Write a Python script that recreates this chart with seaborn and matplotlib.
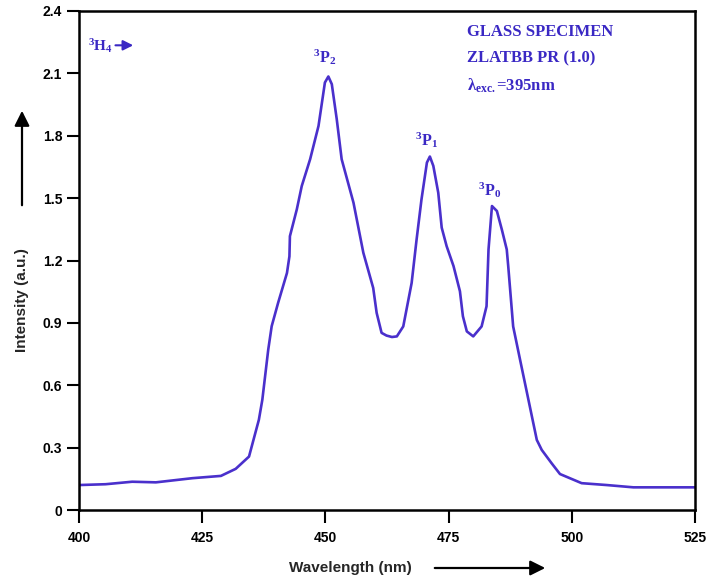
import numpy as np
import pandas as pd
import matplotlib
matplotlib.use("Agg")
import matplotlib.pyplot as plt
import seaborn as sns

# ---- data ----
wavelength = [400.0, 405.4, 410.8, 415.6, 423.0, 428.8, 431.8, 434.5, 436.5, 437.2,
              438.4, 439.1, 440.4, 442.2, 442.7, 442.8, 444.2, 445.2, 446.9, 448.6,
              449.9, 450.6, 451.3, 452.3, 453.3, 455.7, 457.7, 459.7, 460.4, 461.4,
              462.4, 463.5, 464.5, 465.8, 467.5, 468.5, 469.5, 470.6, 471.2, 471.9,
              472.9, 473.6, 474.6, 476.0, 477.3, 477.9, 478.7, 480.0, 481.7, 482.7,
              483.1, 483.8, 484.8, 485.8, 486.8, 487.1, 488.1, 489.5, 491.2, 492.9,
              493.9, 495.9, 497.6, 502.0, 507.1, 512.5, 525.0]
intensity = [0.120, 0.124, 0.136, 0.133, 0.153, 0.164, 0.198, 0.257, 0.434, 0.530,
             0.771, 0.884, 0.996, 1.140, 1.220, 1.317, 1.446, 1.558, 1.687, 1.847,
             2.056, 2.085, 2.048, 1.880, 1.687, 1.478, 1.237, 1.068, 0.948, 0.852,
             0.839, 0.832, 0.835, 0.883, 1.092, 1.300, 1.494, 1.671, 1.700, 1.655,
             1.526, 1.358, 1.269, 1.173, 1.052, 0.932, 0.859, 0.835, 0.883, 0.980,
             1.253, 1.462, 1.438, 1.349, 1.253, 1.173, 0.883, 0.723, 0.530, 0.337,
             0.289, 0.225, 0.173, 0.129, 0.120, 0.109, 0.109]
x_ticks = [400, 425, 450, 475, 500, 525]
x_tick_labels = ["400", "425", "450", "475", "500", "525"]
y_ticks = [0, 0.3, 0.6, 0.9, 1.2, 1.5, 1.8, 2.1, 2.4]
y_tick_labels = ["0", "0.3", "0.6", "0.9", "1.2", "1.5", "1.8", "2.1", "2.4"]
peak_labels = [r"$\mathbf{^{3}P_{2}}$", r"$\mathbf{^{3}P_{1}}$", r"$\mathbf{^{3}P_{0}}$"]
peak_pos = [(449.9, 2.18), (470.6, 1.78), (483.4, 1.54)]
info_lines = ["GLASS SPECIMEN", "ZLATBB PR (1.0)", r"$\mathbf{λ_{exc.}}$=395nm"]

df = pd.DataFrame({"Wavelength": wavelength, "Intensity": intensity})

sns.set_theme(style="ticks")
plt.rcParams["font.family"] = ["Liberation Sans", "DejaVu Sans"]
plt.rcParams["mathtext.fontset"] = "custom"
plt.rcParams["mathtext.rm"] = "Liberation Serif"
plt.rcParams["mathtext.bf"] = "Liberation Serif:bold"
plt.rcParams["mathtext.it"] = "Liberation Serif:italic"

line_color = "#4a30cc"
text_color = "#3a28c4"

fig = plt.figure(figsize=(7.08, 5.84), dpi=100)
ax = fig.add_axes([79/708, 1 - 510/584, (695-79)/708, (510-11)/584])

sns.lineplot(data=df, x="Wavelength", y="Intensity", sort=False, ax=ax,
             color=line_color, linewidth=1.9, estimator=None)

ax.set_xlim(400, 525)
ax.set_ylim(0, 2.4)
ax.set_xticks(x_ticks)
ax.set_xticklabels(x_tick_labels)
ax.set_yticks(y_ticks)
ax.set_yticklabels(y_tick_labels)
for lab in ax.get_xticklabels() + ax.get_yticklabels():
    lab.set_fontweight("bold")
    lab.set_fontsize(10)
ax.tick_params(axis="both", direction="out", length=9, width=1.5, colors="black", pad=3)
ax.tick_params(axis="x", pad=6)
for s in ax.spines.values():
    s.set_visible(True)
    s.set_linewidth(1.8)
    s.set_color("black")
ax.set_xlabel("")
ax.set_ylabel("")

# axis titles with arrows (figure coordinates)
fig.text(350/708, 1 - 568/584, "Wavelength (nm)", ha="center", va="center",
         fontsize=11, fontweight="bold")
fig.add_artist(matplotlib.patches.FancyArrowPatch(
    (432/708, 1 - 568/584), (548/708, 1 - 568/584), transform=fig.transFigure,
    arrowstyle="-|>,head_length=6,head_width=3", mutation_scale=1.5, color="black", lw=1.6))
fig.text(22/708, 1 - 300/584, "Intensity (a.u.)", ha="center", va="center",
         rotation=90, fontsize=11, fontweight="bold")
fig.add_artist(matplotlib.patches.FancyArrowPatch(
    (22/708, 1 - 208/584), (22/708, 1 - 108/584), transform=fig.transFigure,
    arrowstyle="-|>,head_length=6,head_width=3", mutation_scale=1.5, color="black", lw=1.6))

# annotations
ax.text(401.8, 2.23, r"$\mathbf{^{3}H_{4}}$", color=text_color, fontsize=11,
        ha="left", va="center")
ax.annotate("", xy=(411.0, 2.235), xytext=(407.4, 2.235),
            arrowprops=dict(arrowstyle="-|>,head_length=0.5,head_width=0.25",
                            color=text_color, lw=1.5, shrinkA=0, shrinkB=0))
for lab, (px, py) in zip(peak_labels, peak_pos):
    ax.text(px, py, lab, color=text_color, fontsize=11.5, ha="center", va="center")

for i, t in enumerate(info_lines):
    ax.text(478.7, 2.30 - i * 0.13, t, color=text_color, fontsize=12,
            fontweight="bold", family="Liberation Serif", ha="left", va="center")

fig.savefig("out.png", dpi=100)
